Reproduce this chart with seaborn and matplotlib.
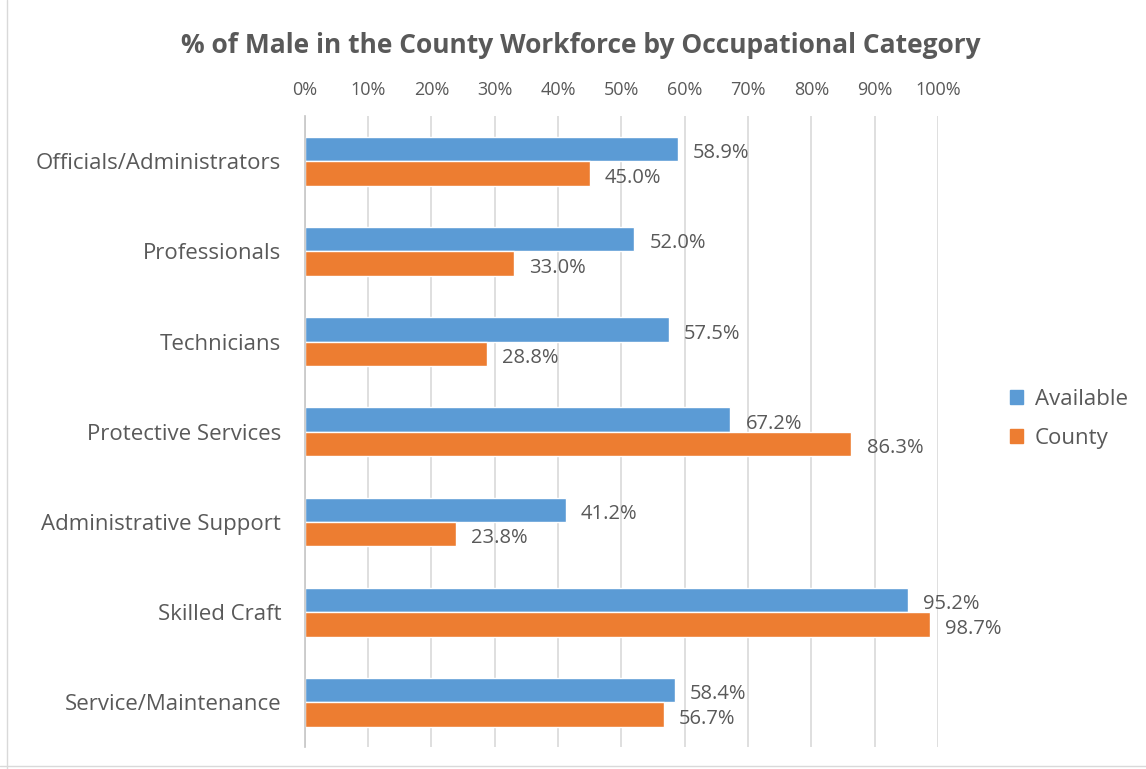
import seaborn as sns
import matplotlib.pyplot as plt
import matplotlib.patches as mpatches
import pandas as pd

# values
categories = ["Officials/Administrators", "Professionals", "Technicians",
              "Protective Services", "Administrative Support", "Skilled Craft",
              "Service/Maintenance"]
available = [58.9, 52.0, 57.5, 67.2, 41.2, 95.2, 58.4]
county = [45.0, 33.0, 28.8, 86.3, 23.8, 98.7, 56.7]
series = ["Available", "County"]
colors = ["#5B9BD5", "#ED7D31"]

df = pd.DataFrame({
    "category": categories * 2,
    "value": available + county,
    "series": [series[0]] * len(categories) + [series[1]] * len(categories),
})

sns.set_theme(style="white")
plt.rcParams["font.family"] = ["Open Sans", "DejaVu Sans"]
txt = "#595959"

fig = plt.figure(figsize=(11.46, 7.69), dpi=100)
ax = fig.add_axes([0.266, 0.028, 0.5525, 0.821])

sns.barplot(data=df, y="category", x="value", hue="series", orient="h",
            palette=colors, width=0.54, saturation=1, ax=ax, legend=False)

for c in ax.containers:
    anns = ax.bar_label(c, labels=[f"{v:.1f}%" for v in c.datavalues], padding=11,
                        fontsize=14.5, color=txt)
    for a in anns:
        a.xyann = (a.xyann[0], -3)

ax.set_xlim(0, 100)
ax.set_xticks(range(0, 101, 10))
ax.xaxis.tick_top()
ax.set_xticklabels([f"{t}%" for t in range(0, 101, 10)], fontsize=13, color=txt)
ax.tick_params(axis="x", length=0, pad=12)
ax.tick_params(axis="y", length=0, pad=17, labelsize=16, labelcolor=txt)
ax.set_xlabel("")
ax.set_ylabel("")
ax.grid(axis="x", color="#D9D9D9", linewidth=1.2)
ax.set_axisbelow(True)
for s in ["top", "right", "bottom"]:
    ax.spines[s].set_visible(False)
ax.spines["left"].set_color("#C8C8C8")

fig.text(0.507, 0.941, "% of Male in the County Workforce by Occupational Category",
         ha="center", va="center", fontsize=19, fontweight="bold", color=txt)

handles = [mpatches.Patch(color=col, label=lab) for col, lab in zip(colors, series)]
fig.legend(handles=handles, loc="center left", bbox_to_anchor=(0.864, 0.455),
           frameon=False, fontsize=16, handlelength=0.6, handleheight=0.6,
           labelspacing=0.8, handletextpad=0.5, labelcolor=txt)

# chart border lines
fig.add_artist(plt.Line2D([0.006, 0.006], [0, 1], color="#D9D9D9", lw=1))
fig.add_artist(plt.Line2D([0, 1], [0.004, 0.004], color="#D9D9D9", lw=1))

fig.savefig("out.png", dpi=100)
plt.close()
